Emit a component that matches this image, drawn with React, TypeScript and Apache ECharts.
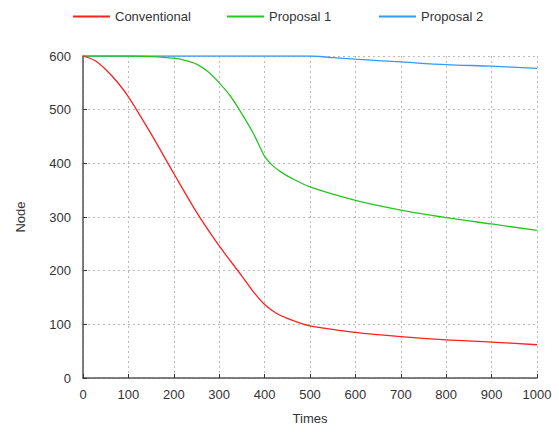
import React, { useEffect, useRef } from "react";
import * as echarts from "echarts";

const convX = [0, 25, 50, 75, 100, 150, 200, 250, 300, 350, 375, 400, 425, 450, 500, 600, 700, 800, 900, 1000];
const convY = [600, 592, 575, 552, 524, 455, 381, 309, 246, 190, 161, 137, 121, 111, 97, 85, 77, 71, 67, 62];

const p1X = [0, 100, 150, 200, 225, 250, 275, 300, 325, 350, 375, 390, 400, 415, 434, 460, 500, 600, 700, 800, 900, 1000];
const p1Y = [600, 600, 599, 596, 592, 585, 571, 550, 525, 492, 456, 430, 413, 398, 385, 372, 356, 331, 313, 299, 287, 275];

const p2X = [0, 500, 550, 600, 700, 800, 900, 1000];
const p2Y = [600, 600, 597, 594, 589, 584, 581, 577];

const seriesNames = ["Conventional", "Proposal 1", "Proposal 2"];
const seriesColors = ["#ff2020", "#26c526", "#3399ff"];
const xTicks = [0, 1000, 100];
const yTicks = [0, 600, 100];

function zip(xs: number[], ys: number[]) {
  return xs.map((x, i) => [x, ys[i]]);
}

export default function App() {
  const ref = useRef<HTMLDivElement>(null);
  useEffect(() => {
    if (!ref.current) return;
    const chart = echarts.init(ref.current, undefined, { renderer: "svg" });
    const font = "Liberation Sans, Arial, sans-serif";
    const data = [zip(convX, convY), zip(p1X, p1Y), zip(p2X, p2Y)];
    const legendLefts = [68, 222, 374];
    chart.setOption({
      animation: false,
      textStyle: { fontFamily: font },
      legend: seriesNames.map((n, i) => ({
        data: [n],
        left: legendLefts[i],
        top: 5,
        icon: "rect",
        itemWidth: 37,
        itemHeight: 2,
        itemGap: 8,
        textStyle: { fontSize: 13, color: "#333", fontFamily: font },
      })),
      grid: { left: 83, right: 22, top: 56, bottom: 54, containLabel: false },
      xAxis: {
        type: "value",
        min: xTicks[0],
        max: xTicks[1],
        interval: xTicks[2],
        name: "Times",
        nameLocation: "middle",
        nameGap: 34,
        nameTextStyle: { fontSize: 13, color: "#333", fontFamily: font },
        axisLine: { lineStyle: { color: "#555", width: 1.5 } },
        axisTick: { inside: true, length: 4, lineStyle: { color: "#333" } },
        axisLabel: { fontSize: 13, color: "#333", margin: 10, fontFamily: font, formatter: (v: number) => String(v) },
        splitLine: { show: true, lineStyle: { type: [2, 3], color: "#bbb" } },
      },
      yAxis: {
        type: "value",
        min: yTicks[0],
        max: yTicks[1],
        interval: yTicks[2],
        name: "Node",
        nameLocation: "middle",
        nameGap: 56,
        nameTextStyle: { fontSize: 13, color: "#333", fontFamily: font },
        axisLine: { show: true, lineStyle: { color: "#555", width: 1.5 } },
        axisTick: { show: true, inside: true, length: 4, lineStyle: { color: "#333" } },
        axisLabel: { fontSize: 13, color: "#333", margin: 12, fontFamily: font, formatter: (v: number) => String(v) },
        splitLine: { show: true, lineStyle: { type: [2, 3], color: "#bbb" } },
      },
      series: seriesNames.map((n, i) => ({
        name: n,
        type: "line",
        data: data[i],
        symbol: "none",
        smooth: 0.3,
        lineStyle: { color: seriesColors[i], width: 1.3 },
        itemStyle: { color: seriesColors[i] },
        z: 3 - i + 2,
      })),
    });
    return () => chart.dispose();
  }, []);
  return <div ref={ref} style={{ width: 559, height: 432, position: "absolute", left: 0, top: 0 }} />;
}
